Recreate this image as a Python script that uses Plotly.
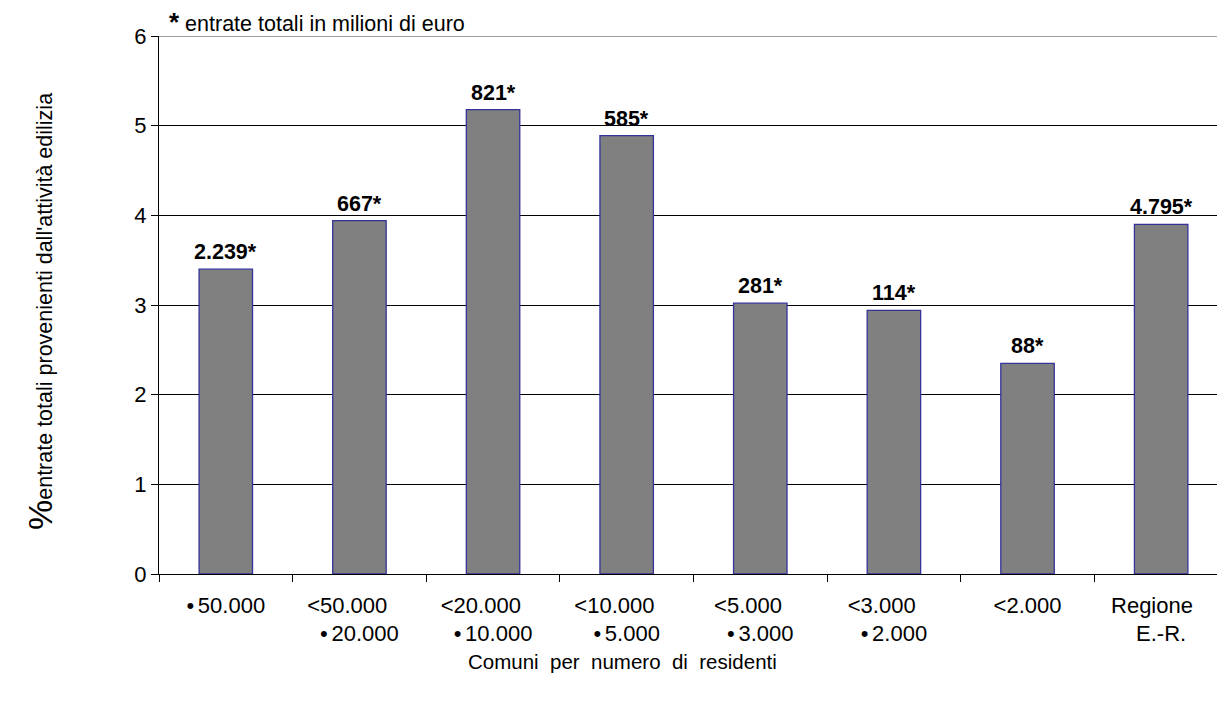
import plotly.graph_objects as go

# Quota delle entrate comunali provenienti dall'attività edilizia, per classe di comuni
NB = "\u00a0"
SP = "\u2006"
categories = ["c1", "c2", "c3", "c4", "c5", "c6", "c7", "c8"]
tick_labels = [
    "\u2022" + SP + "50.000",
    "<50.000" + NB * 4 + "<br>\u2022" + SP + "20.000",
    "<20.000" + NB * 4 + "<br>\u2022" + SP + "10.000",
    "<10.000" + NB * 4 + "<br>\u2022" + SP + "5.000",
    "<5.000" + NB * 4 + "<br>\u2022" + SP + "3.000",
    "<3.000" + NB * 4 + "<br>\u2022" + SP + "2.000",
    "<2.000",
    "Regione" + NB * 3 + "<br>E.-R.",
]
share_pct = [3.40, 3.94, 5.18, 4.89, 3.02, 2.94, 2.35, 3.90]
revenue_labels = ["2.239*", "667*", "821*", "585*", "281*", "114*", "88*", "4.795*"]

FONT = "Liberation Sans, Arial, sans-serif"
FS = 22

fig = go.Figure()
fig.add_trace(go.Bar(
    x=categories,
    y=share_pct,
    width=0.4,
    marker=dict(color="#808080", line=dict(color="#333399", width=1.3)),
    showlegend=False,
    hoverinfo="skip",
))

annotations = []
for cat, val, lab in zip(categories, share_pct, revenue_labels):
    annotations.append(dict(
        x=cat, y=val, xref="x", yref="y", text=f"<b>{lab}</b>",
        showarrow=False, yanchor="bottom", yshift=3,
        font=dict(family=FONT, size=21.5, color="black"),
    ))

# nota in alto
annotations.append(dict(
    x=0.0075, y=1, xref="paper", yref="paper", xanchor="left", yanchor="bottom",
    yshift=-3, showarrow=False,
    text="<b><span style='font-size:26px'>*</span></b> entrate totali in milioni di euro",
    font=dict(family=FONT, size=21.5, color="black"),
))

# titolo asse x
annotations.append(dict(
    x=0.4385, y=-0.162, xref="paper", yref="paper", xanchor="center", yanchor="middle",
    showarrow=False,
    text="Comuni  per  numero  di  residenti".replace("  ", NB + " "),
    font=dict(family=FONT, size=20.5, color="black"),
))

# titolo asse y
annotations.append(dict(
    x=-0.1125, y=0.4888, xref="paper", yref="paper", xanchor="center", yanchor="middle",
    showarrow=False, textangle=-90,
    text="<span style='font-size:34px'>%</span>entrate totali provenienti dall'attività edilizia",
    font=dict(family=FONT, size=21.5, color="black"),
))

fig.update_layout(
    width=1217, height=702,
    margin=dict(l=159, r=0, t=36, b=128, pad=0),
    paper_bgcolor="white", plot_bgcolor="white",
    font=dict(family=FONT, size=FS, color="black"),
    annotations=annotations,
    shapes=[dict(type="line", xref="paper", yref="y", x0=0, x1=1, y0=6, y1=6,
                 line=dict(color="#808080", width=1.5))],
    bargap=0.6,
)
fig.update_xaxes(
    type="category",
    tickmode="array", tickvals=categories, ticktext=tick_labels,
    range=[-0.5, 7.418],
    showline=True, linecolor="black", linewidth=1.2,
    ticks="outside", tickson="boundaries", ticklen=7, tickcolor="black", tickwidth=1,
    showgrid=False, ticklabelstandoff=11,
    tickfont=dict(family=FONT, size=FS, color="black"),
)
fig.update_yaxes(
    range=[0, 6], dtick=1, tick0=0,
    showline=True, linecolor="black", linewidth=1.2,
    ticks="outside", ticklen=7, tickcolor="black", tickwidth=1,
    showgrid=True, gridcolor="black", gridwidth=1,
    zeroline=False,
    tickfont=dict(family=FONT, size=FS, color="black"),
)

fig.write_html("out.html")
